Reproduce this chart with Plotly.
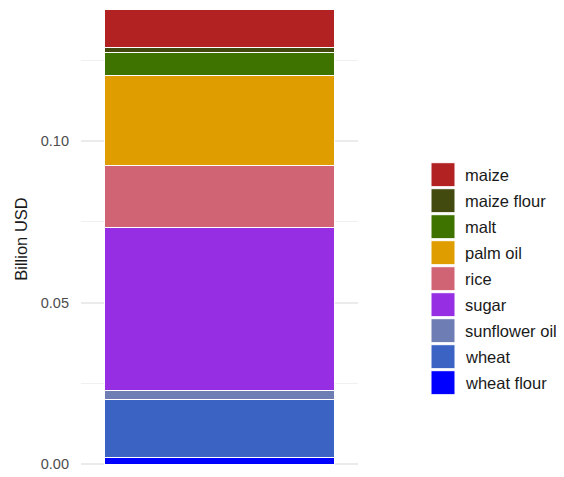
import plotly.graph_objects as go

# stacked from bottom to top
products = ["wheat flour", "wheat", "sunflower oil", "sugar", "rice",
            "palm oil", "malt", "maize flour", "maize"]
values = [0.0022, 0.0179, 0.0028, 0.0503, 0.0191, 0.0280, 0.0069, 0.0018, 0.0117]
colors = ["#0000FF", "#3A63C4", "#6E7EB5", "#962FE4", "#D06474",
          "#DF9D00", "#3F7300", "#424A10", "#B22222"]
category = [""]

# page has an 8px body margin, so figure coords = page coords - 8
W, H = 556, 469
L, R, T, B = 73, 350, 0, 462

fig = go.Figure()
for name, val, col in zip(products, values, colors):
    fig.add_trace(go.Bar(x=category, y=[val], name=name, marker_color=col,
                         marker_line=dict(color="white", width=1),
                         showlegend=False))

# hand-drawn legend (ggplot style big keys), top to bottom: maize ... wheat flour
def px_x(p):
    return (p - L) / (R - L)

def px_y(p):
    return (B - p) / (B - T)

shapes, annos = [], []
for i, (name, col) in enumerate(zip(products[::-1], colors[::-1])):
    top = 154.7 + 26 * i
    shapes.append(dict(type="rect", xref="paper", yref="paper",
                       x0=px_x(423), x1=px_x(447), y0=px_y(top + 24), y1=px_y(top),
                       fillcolor=col, line=dict(color="white", width=1)))
    annos.append(dict(xref="paper", yref="paper", x=px_x(455), y=px_y(top + 12),
                      text=name, showarrow=False, xanchor="left", yanchor="middle",
                      font=dict(size=16.5, color="#1a1a1a")))

fig.update_layout(
    width=W, height=H,
    margin=dict(l=L, r=W - R, t=T, b=H - B, pad=0),
    barmode="stack", bargap=0.172,
    plot_bgcolor="white", paper_bgcolor="white",
    font=dict(family="Liberation Sans, Arial, sans-serif"),
    shapes=shapes, annotations=annos,
    showlegend=False,
)
fig.update_xaxes(showticklabels=False, showgrid=False, zeroline=False,
                 range=[-0.5, 0.5])
fig.update_yaxes(range=[-0.00176, 0.1411], tickvals=[0, 0.05, 0.10],
                 ticktext=["0.00", "0.05", "0.10"],
                 tickfont=dict(size=14.5, color="#4d4d4d"), ticklabelstandoff=11,
                 showgrid=True, gridcolor="#ebebeb", gridwidth=2, zeroline=False,
                 minor=dict(tickvals=[0.025, 0.075, 0.125], showgrid=True,
                            gridcolor="#f0f0f0", gridwidth=1),
                 title=dict(text="Billion USD", font=dict(size=16.5, color="#1a1a1a"),
                            standoff=8))

fig.write_html("out.html")
